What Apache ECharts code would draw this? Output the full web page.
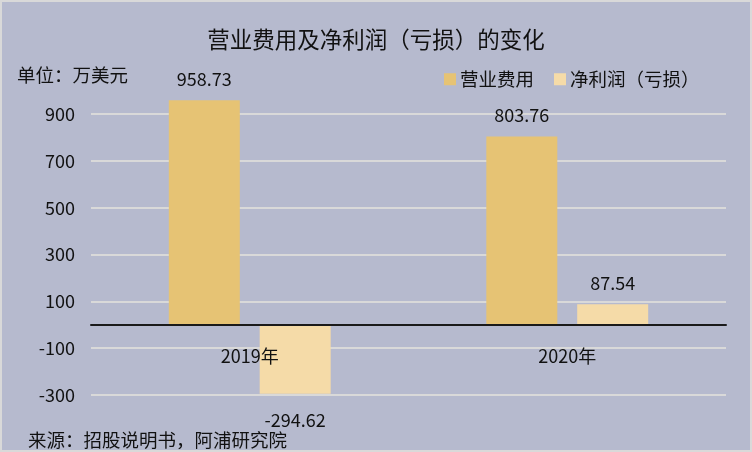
<!DOCTYPE html>
<html><head><meta charset="utf-8">
<script src="https://cdn.jsdelivr.net/npm/echarts@6/dist/echarts.min.js"></script>
<style>html,body{margin:0;padding:0;background:#fff}#c{width:752px;height:452px;box-sizing:border-box;border:2px solid #d9d9d9;}</style>
</head><body><div id="c"></div>
<script>
const categories = ['2019年', '2020年'];
const seriesNames = ['营业费用', '净利润（亏损）'];
const opex = [958.73, 803.76];
const netIncome = [-294.62, 87.54];
const yMin = -300, yMax = 900, yStep = 200;

const FONT = '"Noto Sans CJK SC", sans-serif';
const chart = echarts.init(document.getElementById('c'));
function lbl(v) {
  return v < 0 ? { position: 'bottom', distance: 17 } : { position: 'top', distance: 12 };
}
chart.setOption({
  backgroundColor: '#b6bace',
  animation: false,
  textStyle: { fontFamily: FONT },
  title: [{
    text: '营业费用及净利润（亏损）的变化', left: 'center', top: 21,
    textStyle: { fontSize: 22.5, fontWeight: 'normal', color: '#111', fontFamily: FONT }
  }, {
    text: '单位：万美元', left: 10, top: 59,
    textStyle: { fontSize: 18.5, fontWeight: 'normal', color: '#111', fontFamily: FONT }
  }, {
    text: '来源：招股说明书，阿浦研究院', left: 21, top: 424,
    textStyle: { fontSize: 18.5, fontWeight: 'normal', color: '#111', fontFamily: FONT }
  }],
  legend: {
    data: seriesNames, left: 437, top: 63, itemWidth: 12, itemHeight: 12, itemGap: 20,
    icon: 'rect', textStyle: { fontSize: 18.5, color: '#111', fontFamily: FONT, padding: [0, 0, 0, -1] }
  },
  grid: { left: 89, right: 24, top: 112, bottom: 55 },
  xAxis: {
    type: 'category', data: categories, z: 5,
    axisLine: { onZero: true, lineStyle: { color: '#1a1a1a', width: 2 } },
    axisTick: { show: false },
    axisLabel: { fontSize: 18, color: '#111', margin: -48, fontFamily: FONT }
  },
  yAxis: {
    type: 'value', min: yMin, max: yMax, interval: yStep,
    axisLine: { show: false }, axisTick: { show: false },
    axisLabel: { fontSize: 18, color: '#111', margin: 16, fontFamily: FONT },
    splitLine: { lineStyle: { color: '#d9d9d9', width: 2 } }
  },
  series: [{
    name: seriesNames[0], type: 'bar', barWidth: 71, barGap: '28%', clip: false,
    itemStyle: { color: '#e6c374' },
    data: opex.map(v => ({ value: v, label: lbl(v) })),
    label: { show: true, fontSize: 18, color: '#111', fontFamily: FONT }
  }, {
    name: seriesNames[1], type: 'bar', barWidth: 71, clip: false,
    itemStyle: { color: '#f5dba8' },
    data: netIncome.map(v => ({ value: v, label: lbl(v) })),
    label: { show: true, fontSize: 18, color: '#111', fontFamily: FONT }
  }]
});
</script></body></html>
